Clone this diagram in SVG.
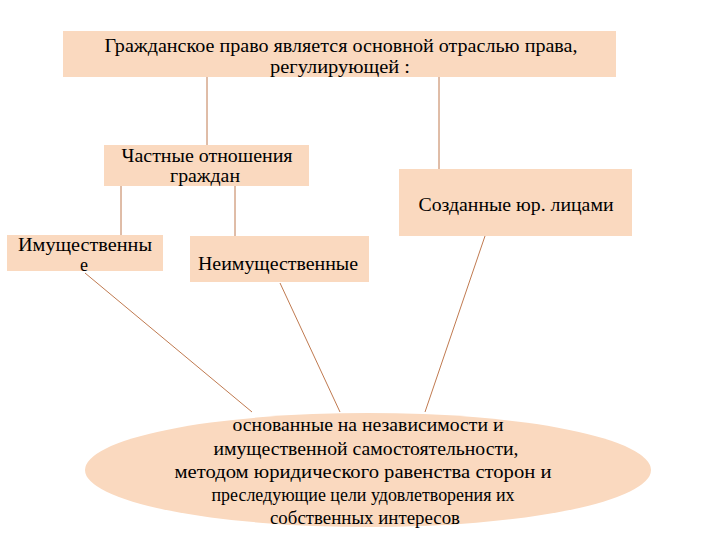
<svg xmlns="http://www.w3.org/2000/svg" width="720" height="540" viewBox="0 0 720 540">
<style>
.box{fill:#FAD9BF;}
.c{stroke:#C07A50;stroke-width:1;fill:none;}
text{font-family:'Liberation Serif','Times New Roman',serif;font-size:18px;fill:#000;text-anchor:middle;}
</style>
<rect width="720" height="540" fill="#fff"/>
<g id="connectors">
<line class="c" x1="207" y1="77" x2="207" y2="145"/>
<line class="c" x1="439" y1="77" x2="439" y2="169"/>
<line class="c" x1="121" y1="186" x2="121" y2="235"/>
<line class="c" x1="235" y1="186" x2="235" y2="236"/>
<line class="c" x1="85" y1="273" x2="252" y2="412"/>
<line class="c" x1="280" y1="283" x2="340" y2="412"/>
<line class="c" x1="485" y1="236" x2="425" y2="412"/>
</g>
<g id="top">
<rect class="box" x="63" y="31" width="553" height="46"/>
<text x="341" y="52" textLength="473" lengthAdjust="spacingAndGlyphs">Гражданское право является основной отраслью права,</text>
<text x="340" y="73" textLength="140" lengthAdjust="spacingAndGlyphs">регулирующей :</text>
</g>
<g id="private">
<rect class="box" x="104" y="145" width="205" height="41"/>
<text x="207" y="162" textLength="171" lengthAdjust="spacingAndGlyphs">Частные отношения</text>
<text x="205" y="182" textLength="70" lengthAdjust="spacingAndGlyphs">граждан</text>
</g>
<g id="legal">
<rect class="box" x="399" y="169" width="233" height="67"/>
<text x="516" y="211" textLength="195" lengthAdjust="spacingAndGlyphs">Созданные юр. лицами</text>
</g>
<g id="property">
<rect class="box" x="7" y="235" width="156" height="36"/>
<text x="85" y="251" textLength="134" lengthAdjust="spacingAndGlyphs">Имущественны</text>
<text x="84" y="271">е</text>
</g>
<g id="nonproperty">
<rect class="box" x="190" y="236" width="179" height="46"/>
<text x="278" y="270" textLength="160" lengthAdjust="spacingAndGlyphs">Неимущественные</text>
</g>
<g id="ellipse">
<ellipse class="box" cx="368" cy="470" rx="283" ry="57"/>
<text x="368" y="431" textLength="271" lengthAdjust="spacingAndGlyphs">основанные на независимости и</text>
<text x="366" y="455" textLength="305" lengthAdjust="spacingAndGlyphs">имущественной самостоятельности,</text>
<text x="363" y="478" textLength="377" lengthAdjust="spacingAndGlyphs">методом юридического равенства сторон и</text>
<text x="363" y="501" textLength="303" lengthAdjust="spacingAndGlyphs">преследующие цели удовлетворения их</text>
<text x="365" y="524" textLength="190" lengthAdjust="spacingAndGlyphs">собственных интересов</text>
</g>
</svg>
